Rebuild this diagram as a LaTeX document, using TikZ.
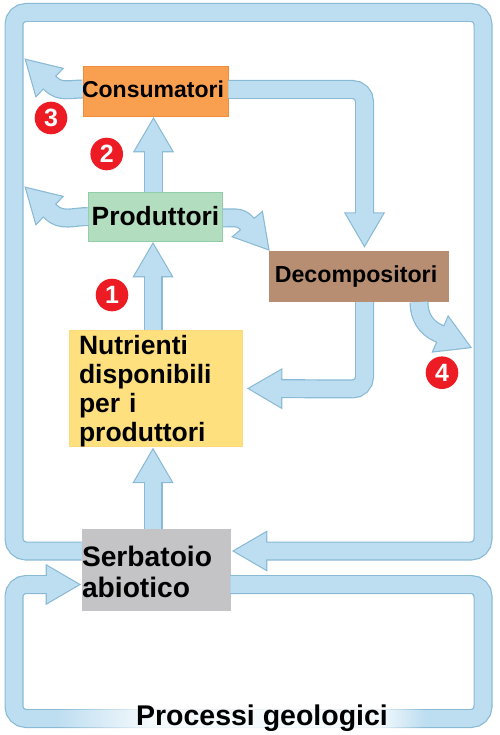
\documentclass[tikz,border=0pt]{standalone}
\usepackage{fontspec}
\setmainfont{Liberation Sans}
\usetikzlibrary{arrows.meta, fadings}
\definecolor{flowfill}{HTML}{BDDEF1}
\definecolor{flowedge}{HTML}{88B9D5}
\definecolor{badgered}{HTML}{ED1C24}
\tikzset{
	x=1pt, y=-1pt,
	flow/.style={line join=miter, rounded corners=12pt,
		preaction={draw=flowedge, line width=19pt, shorten >=0pt, -{Triangle[length=36pt, width=38.5pt]}},
		draw=flowfill, line width=16.6pt, -{Triangle[length=32.4pt, width=34.7pt]}, shorten >=2.4pt},
	box/.style={rectangle, draw, line width=0.8pt, inner sep=0pt, align=left},
	badge/.style={circle, fill=badgered, text=white, minimum size=32.6pt, inner sep=0pt, font=\bfseries\fontsize{25}{25}\selectfont}
}

\begin{document}
\begin{tikzpicture}
	\useasboundingbox (0,0) rectangle (499,735);
	% organisms and reservoirs
	\node[box, draw={rgb,255:red,240;green,140;blue,60}, fill={rgb,255:red,249;green,160;blue,80}, minimum width=145pt, minimum height=50pt, font=\bfseries\fontsize{23}{23}\selectfont] (Consumatori) at (155.5,91) {\hspace*{-5pt}\raisebox{4pt}{Consumatori}};
	\node[box, draw={rgb,255:red,145;green,205;blue,167}, fill={rgb,255:red,178;green,221;blue,191}, minimum width=134pt, minimum height=49pt, font=\bfseries\fontsize{26.4}{26.4}\selectfont] (Produttori) at (155.5,216.5) {Produttori};
	\node[box, draw={rgb,255:red,183;green,142;blue,114}, fill={rgb,255:red,183;green,142;blue,114}, minimum width=179pt, minimum height=50pt, font=\bfseries\fontsize{23.2}{23.2}\selectfont] (Decompositori) at (358.5,276.7) {\hspace*{-5pt}Decompositori};
	\node[box, draw={rgb,255:red,253;green,217;blue,122}, fill={rgb,255:red,255;green,224;blue,127}, minimum width=173pt, minimum height=115pt, text width=153pt, font=\bfseries\fontsize{26.5}{29}\selectfont] (Nutrienti) at (155.5,388.5) {\rule{0pt}{24pt}Nutrienti\\disponibili\\per i\\produttori};
	\node[box, draw={rgb,255:red,196;green,196;blue,198}, fill={rgb,255:red,196;green,196;blue,198}, minimum width=148pt, minimum height=81pt, text width=148pt, font=\bfseries\fontsize{28.2}{31}\selectfont] (Serbatoio) at (156,569.5) {\rule{0pt}{25pt}Serbatoio\\abiotico};

	% corners of the two big loops, free arrow ends
	\coordinate (LoopNW) at (14,12.5);
	\coordinate (LoopNE) at (483,12.5);
	\coordinate (LoopSW) at (14,551);
	\coordinate (LoopSE) at (483,551);
	\coordinate (GeoSW) at (14,718.5);
	\coordinate (GeoSE) at (483,718.5);
	\coordinate (GeoNW) at (14,584.5);
	\coordinate (GeoNE) at (483,584.5);
	\coordinate (UpperEnd) at (24,58);
	\coordinate (UpperBase) at (51,84);
	\coordinate (LowerEnd) at (24,186);
	\coordinate (LowerBase) at (51,212);
	\coordinate (RightEnd) at (472.7,348.3);
	\coordinate (RightBase) at (438.8,333.4);
	\coordinate (DecoBase) at (246.8,223.5);
	\coordinate (DecoCorner) at (364.5,389);
	\coordinate (ConsCorner) at (364.5,89.5);

	% flows
	\draw[flow] ([yshift=18.5pt]Serbatoio.west) -- (LoopSW) -- (LoopNW) -- (LoopNE) -- (LoopSE) -- ([xshift=1pt, yshift=18.5pt]Serbatoio.east);
	\draw[flow] ([yshift=-15pt]Serbatoio.east) -- (GeoNE) -- (GeoSE) -- (GeoSW) -- (GeoNW) -- ([yshift=-15pt]Serbatoio.west);
	\draw[flow] ([xshift=-3pt]Serbatoio.north) -- ([xshift=-2.5pt]Nutrienti.south);
	\draw[flow] ([xshift=-2.5pt]Nutrienti.north) -- ([xshift=-2.5pt]Produttori.south);
	\draw[flow] ([xshift=-2pt]Produttori.north) -- ([xshift=-2pt]Consumatori.south);
	\draw[flow] ([yshift=1.5pt]Consumatori.east) -- (ConsCorner) -- ([xshift=6pt, yshift=3pt]Decompositori.north);
	\draw[flow] ([xshift=6pt]Decompositori.south) -- (DecoCorner) -- ([xshift=4pt]Nutrienti.east);
	\draw[flow, sharp corners] ([yshift=2pt]Consumatori.west) to[out=180, in=-44] (UpperBase) -- (UpperEnd);
	\draw[flow, sharp corners] (Produttori.west) to[out=180, in=-44] (LowerBase) -- (LowerEnd);
	\draw[flow, sharp corners] ([yshift=-1.5pt]Produttori.east) to[out=0, in=130] (DecoBase) -- ([xshift=1.5pt]Decompositori.north west);
	\draw[flow, sharp corners] ([xshift=60.5pt]Decompositori.south) to[out=-90, in=156] (RightBase) -- (RightEnd);

	% fading band behind the bottom label
	\fill[white, opacity=0.85, path fading=west] (55,707) rectangle (150,730);
	\fill[white, opacity=0.85] (150,707) rectangle (378,730);
	\fill[white, opacity=0.85, path fading=east] (378,707) rectangle (425,730);
	\node[font=\bfseries\fontsize{28.5}{28.5}\selectfont, inner sep=0pt] (Geologici) at (262,718.5) {Processi geologici};

	% numbers
	\node[badge] (One) at (112,295) {1};
	\node[badge] (Two) at (106.7,154) {2};
	\node[badge] (Three) at (51,118) {3};
	\node[badge] (Four) at (442,372.7) {4};
\end{tikzpicture}
\end{document}
